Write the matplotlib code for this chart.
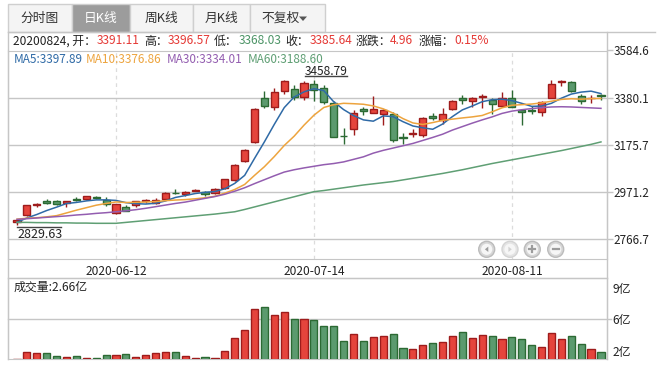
import matplotlib
matplotlib.use('Agg')
import matplotlib.pyplot as plt
from matplotlib.patches import Rectangle, Circle, Polygon
import numpy as np
import pandas as pd

plt.rcParams['font.family'] = ['Noto Sans CJK SC', 'DejaVu Sans']

# trading days 2020-05-29 .. 2020-08-24 (Dragon Boat holiday removed)
days = pd.bdate_range('2020-05-29', '2020-08-24')
days = days[~days.isin(pd.to_datetime(['2020-06-25', '2020-06-26']))]
date_ticks = ['2020-06-12', '2020-07-14', '2020-08-11']

open_ = np.array([2840, 2872, 2915, 2931, 2932, 2922, 2940, 2940, 2951, 2937,
                  2882, 2908, 2916, 2933, 2926, 2943, 2968, 2964, 2977, 2973,
                  2969, 2990, 3024, 3106, 3190, 3378, 3342, 3409, 3419, 3385,
                  3438, 3423, 3358, 3216, 3245, 3332, 3315, 3311, 3311, 3210,
                  3222, 3220, 3303, 3283, 3333, 3377, 3366, 3383, 3372, 3345,
                  3380, 3329, 3327, 3318, 3379, 3446, 3446, 3389, 3378, 3391.11])
high = np.array([2855, 2917, 2926, 2941, 2935, 2932, 2950, 2955, 2953, 2950,
                 2921, 2915, 2934, 2940, 2944, 2970, 2984, 2976, 2985, 2976,
                 2991, 3028, 3093, 3156, 3335, 3408, 3423, 3457, 3434, 3452,
                 3458.79, 3433, 3368, 3250, 3325, 3340, 3386, 3332, 3318, 3227,
                 3246, 3297, 3314, 3335, 3371, 3393, 3383, 3395, 3381, 3405,
                 3413, 3332, 3343, 3364, 3455, 3457, 3453, 3398, 3390, 3396.57])
low = np.array([2829.63, 2869, 2908, 2920, 2914, 2908, 2931, 2937, 2940, 2911,
                2876, 2888, 2908, 2923, 2919, 2940, 2961, 2953, 2976, 2955,
                2964, 2985, 3020, 3102, 3186, 3337, 3329, 3394, 3372, 3372,
                3366, 3351, 3208, 3178, 3220, 3304, 3313, 3263, 3188, 3181,
                3210, 3210, 3282, 3265, 3328, 3354, 3340, 3337, 3311, 3340,
                3338, 3263, 3310, 3300, 3378, 3431, 3404, 3355, 3359, 3368.03])
close = np.array([2852, 2915, 2921, 2923, 2919, 2931, 2938, 2954, 2945, 2920,
                  2919, 2890, 2932, 2936, 2938, 2968, 2966, 2973, 2980, 2964,
                  2985, 3026, 3090, 3153, 3332, 3345, 3405, 3451, 3383, 3443,
                  3415, 3361, 3210, 3214, 3314, 3321, 3333, 3325, 3197, 3205,
                  3228, 3294, 3293, 3310, 3368, 3372, 3378, 3386, 3354, 3379,
                  3340.29, 3319.27, 3320.73, 3360.10, 3438.80,
                  3451.09, 3408.13, 3363.90, 3380.68, 3385.64])
# closes of the 9 sessions before the window (for MA5 / MA10 at the left edge)
pre_close = np.array([2875, 2899, 2884, 2868, 2814, 2818, 2847, 2837, 2846])

ma30 = np.array([2853, 2856, 2859, 2862, 2865, 2868, 2872, 2875, 2879, 2882,
                 2886, 2890, 2895, 2901, 2908, 2915, 2922, 2928, 2936, 2944,
                 2952, 2962, 2975, 2990, 3008, 3025, 3042, 3058, 3068, 3076,
                 3083, 3090, 3095, 3102, 3113, 3124, 3140, 3152, 3162, 3172,
                 3182, 3195, 3208, 3222, 3240, 3255, 3270, 3284, 3297, 3312,
                 3322, 3328, 3333, 3337, 3340, 3341, 3340, 3338, 3336, 3334.01])
ma60 = np.array([2840, 2840, 2839, 2839, 2838, 2838, 2837, 2837, 2836, 2836,
                 2836, 2840, 2844, 2848, 2852, 2856, 2860, 2864, 2868, 2872,
                 2876, 2881, 2886, 2896, 2907, 2918, 2929, 2940, 2951, 2962,
                 2973, 2978, 2984, 2990, 2996, 3002, 3007, 3012, 3017, 3024,
                 3031, 3038, 3045, 3052, 3060, 3068, 3077, 3086, 3095, 3103,
                 3111, 3119, 3127, 3135, 3143, 3151, 3160, 3169, 3178, 3188.60])

# volume, 亿
volume = np.array([1.97, 2.66, 2.56, 2.56, 2.26, 2.16, 2.26, 2.06, 2.06, 2.36,
                   2.36, 2.46, 2.16, 2.36, 2.56, 2.66, 2.66, 2.26, 2.06, 2.16,
                   2.06, 2.79, 4.05, 4.85, 6.93, 7.13, 6.33, 6.63, 5.93, 5.93,
                   5.83, 5.24, 5.24, 3.78, 4.45, 3.78, 4.15, 4.25, 4.45, 3.05,
                   2.95, 3.35, 3.55, 3.65, 4.25, 4.64, 4.05, 4.35, 4.25, 3.95,
                   4.15, 3.95, 3.35, 3.15, 4.55, 3.95, 4.25, 3.45, 2.95, 2.66])

price_ticks = [2766.7, 2971.2, 3175.7, 3380.1, 3584.6]
vol_ticks = [2, 6, 9]

RED, RED_D = '#e5443c', '#9e1c1c'
GRN, GRN_D = '#5b9a6e', '#2c6a33'
C_MA5, C_MA10, C_MA30, C_MA60 = '#2f6aa6', '#eda43e', '#935db0', '#5f9f74'
GRID = '#c6c6c6'
TXT = '#222222'
FS = 8.6

all_close = np.r_[pre_close, close]
ma5 = pd.Series(all_close).rolling(5).mean().values[len(pre_close):]
ma10 = pd.Series(all_close).rolling(10).mean().values[len(pre_close):]

W, H = 663, 370
fig = plt.figure(figsize=(W / 100, H / 100), dpi=100)

def box(l, t, r, b):
    return [l / W, 1 - b / H, (r - l) / W, (b - t) / H]

# background layer in pixel coordinates
bg = fig.add_axes([0, 0, 1, 1], zorder=-1)
bg.set_xlim(0, W); bg.set_ylim(H, 0); bg.axis('off')
tabs = [('分时图', 8, 72), ('日K线', 72, 130), ('周K线', 130, 193), ('月K线', 193, 250), ('不复权', 250, 325)]
for name, l, r in tabs:
    sel = name == '日K线'
    bg.add_patch(Rectangle((l, 4), r - l, 28, fc='#9c9c9c' if sel else '#f4f4f4',
                           ec='#cfcfcf', lw=1))
    cx = (l + r) / 2 - (7 if name == '不复权' else 0)
    bg.text(cx, 18.5, name, ha='center', va='center', fontsize=FS + 0.6,
            color='white' if sel else '#333333')
bg.add_patch(Polygon([(299, 16.5), (307, 16.5), (303, 21)], closed=True, fc='#555555', ec='none'))
bg.plot([8, 655], [32, 32], color=GRID, lw=1)
bg.plot([8, 8], [32, 359.3], color=GRID, lw=1)
bg.plot([606.7, 606.7], [32, 359.3], color=GRID, lw=1)
bg.plot([8, 606.7], [278.3, 278.3], color=GRID, lw=1)

# price panel
ax = fig.add_axes(box(8, 50.5, 606.7, 259.3))
ax.set_facecolor('none')
n = len(close)
x = np.arange(n)
up = close >= open_
fill = np.where(up, RED, GRN)
edge = np.where(up, RED_D, GRN_D)
ax.vlines(x, low, high, colors=edge, lw=1, zorder=3)
ax.bar(x, np.maximum(np.abs(close - open_), 0.5), bottom=np.minimum(open_, close),
       width=0.72, color=fill, edgecolor=edge, linewidth=1, zorder=4)
ax.plot(x, ma5, color=C_MA5, lw=1.1, zorder=5)
ax.plot(x, ma10, color=C_MA10, lw=1.1, zorder=5)
ax.plot(x, ma30, color=C_MA30, lw=1.1, zorder=5)
ax.plot(x, ma60, color=C_MA60, lw=1.1, zorder=5)

ax.set_xlim(-0.91, 59.58)
ax.set_ylim(2680.1, 3584.6)
ax.yaxis.tick_right()
ax.set_yticks(price_ticks)
ax.set_yticklabels([f'{t:.1f}' for t in price_ticks])
tick_idx = [int(np.where(days == pd.Timestamp(d))[0][0]) for d in date_ticks]
ax.set_xticks(tick_idx)
ax.set_xticklabels(date_ticks)
ax.tick_params(axis='x', length=0, pad=4, labelsize=FS, labelcolor=TXT)
ax.tick_params(axis='y', length=4, width=1, color=GRID, pad=0.8, labelsize=FS - 0.2, labelcolor=TXT)
ax.grid(axis='y', color=GRID, lw=1, zorder=0)
ax.grid(axis='x', color='#dcdcdc', lw=0.9, ls=(0, (3, 3)), zorder=0)
for s in ax.spines.values():
    s.set_color(GRID)

# max / min markers: short rule next to the extreme, value on the rule
imax, imin = int(np.argmax(high)), int(np.argmin(low))
hi_y = ax.transData.transform((imax, high[imax]))[1] + 3.5
lo_y = ax.transData.transform((imin, low[imin]))[1] - 2.5
to_data = ax.transData.inverted()
hi_v = to_data.transform((0, hi_y))[1]
lo_v = to_data.transform((0, lo_y))[1]
ax.plot([imax - 0.95, imax + 3.3], [hi_v, hi_v], color='#444444', lw=1, zorder=6, clip_on=False)
ax.annotate(f'{high[imax]:.2f}', (imax - 0.95, hi_v), xytext=(0, 1.3), textcoords='offset pixels',
            ha='left', va='baseline', fontsize=FS, color=TXT)
ax.plot([imin, imin + 4.45], [lo_v, lo_v], color='#444444', lw=1, zorder=6)
ax.annotate(f'{low[imin]:.2f}', (imin, lo_v), xytext=(0, -1), textcoords='offset pixels',
            ha='left', va='top', fontsize=FS + 0.4, color=TXT)

# volume panel
vax = fig.add_axes(box(8, 278.3, 606.7, 359.3))
vax.set_facecolor('none')
vax.bar(x, volume, width=0.72, color=fill, edgecolor=edge, linewidth=1, zorder=3)
vax.set_xlim(-0.91, 59.58)
vax.set_ylim(1.96, 10.0)
vax.set_xticks([])
vax.yaxis.tick_right()
vax.set_yticks(vol_ticks)
vax.set_yticklabels([f'{t}亿' for t in vol_ticks])
vax.tick_params(axis='y', length=0, pad=4, labelsize=FS, labelcolor=TXT)
vax.get_yticklabels()[0].set_va('bottom')
vax.axhline(6, xmin=0, xmax=1 + 4 / 598.7, color=GRID, lw=1, zorder=1, clip_on=False)
for s in vax.spines.values():
    s.set_color(GRID)

# foreground texts in pixel coordinates
fg = fig.add_axes([0, 0, 1, 1], zorder=10)
fg.set_xlim(0, W); fg.set_ylim(H, 0); fg.axis('off')
fg.set_facecolor('none')
C_UP, C_DN = '#e53935', '#4c9466'
chg = close[-1] - close[-2]
info = [('20200824, 开：', 13.3, TXT), (f'{open_[-1]:.2f}', 96.7, C_UP),
        ('高：', 144, TXT), (f'{high[-1]:.2f}', 167.3, C_UP),
        ('低：', 213.3, TXT), (f'{low[-1]:.2f}', 238.3, C_DN),
        ('收：', 285, TXT), (f'{close[-1]:.2f}', 310, C_UP),
        ('涨跌：', 356, TXT), (f'{chg:.2f}', 390, C_UP),
        ('涨幅：', 418.3, TXT), (f'{chg / close[-2] * 100:.2f}%', 454, C_UP)]
for s, px, c in info:
    fg.text(px, 41, s, ha='left', va='center', fontsize=FS, color=c)
mas = [(f'MA5:{ma5[-1]:.2f}', 13.3, C_MA5), (f'MA10:{ma10[-1]:.2f}', 86, C_MA10),
       (f'MA30:{ma30[-1]:.2f}', 166.7, C_MA30), (f'MA60:{ma60[-1]:.2f}', 247.3, C_MA60)]
for s, px, c in mas:
    fg.text(px, 59.3, s, ha='left', va='center', fontsize=FS - 0.1, color=c)
fg.text(13.3, 286.7, f'成交量:{volume[-1]:.2f}亿', ha='left', va='center', fontsize=FS, color=TXT)

# scroll / zoom buttons
for i, bx in enumerate([486.7, 510, 532.3, 555.7]):
    off = i == 1
    fg.add_patch(Circle((bx, 249.3), 8, fc='#e4e4e4' if off else '#d6d6d6',
                        ec='#d4d4d4' if off else '#bcbcbc', lw=1))
    fg.add_patch(Circle((bx, 249.3), 5.6, fc='#f6f6f6', ec='none'))
    ic = '#d2d2d2' if off else '#9c9c9c'
    if i == 0:
        fg.add_patch(Polygon([(bx + 1.6, 246.6), (bx + 1.6, 252.0), (bx - 1.8, 249.3)], fc=ic, ec='none'))
    elif i == 1:
        fg.add_patch(Polygon([(bx - 1.6, 246.6), (bx - 1.6, 252.0), (bx + 1.8, 249.3)], fc=ic, ec='none'))
    elif i == 2:
        fg.plot([bx - 3, bx + 3], [249.3, 249.3], color=ic, lw=1.6)
        fg.plot([bx, bx], [246.3, 252.3], color=ic, lw=1.6)
    else:
        fg.plot([bx - 3, bx + 3], [249.3, 249.3], color=ic, lw=1.6)

fig.savefig('out.png', dpi=100)
